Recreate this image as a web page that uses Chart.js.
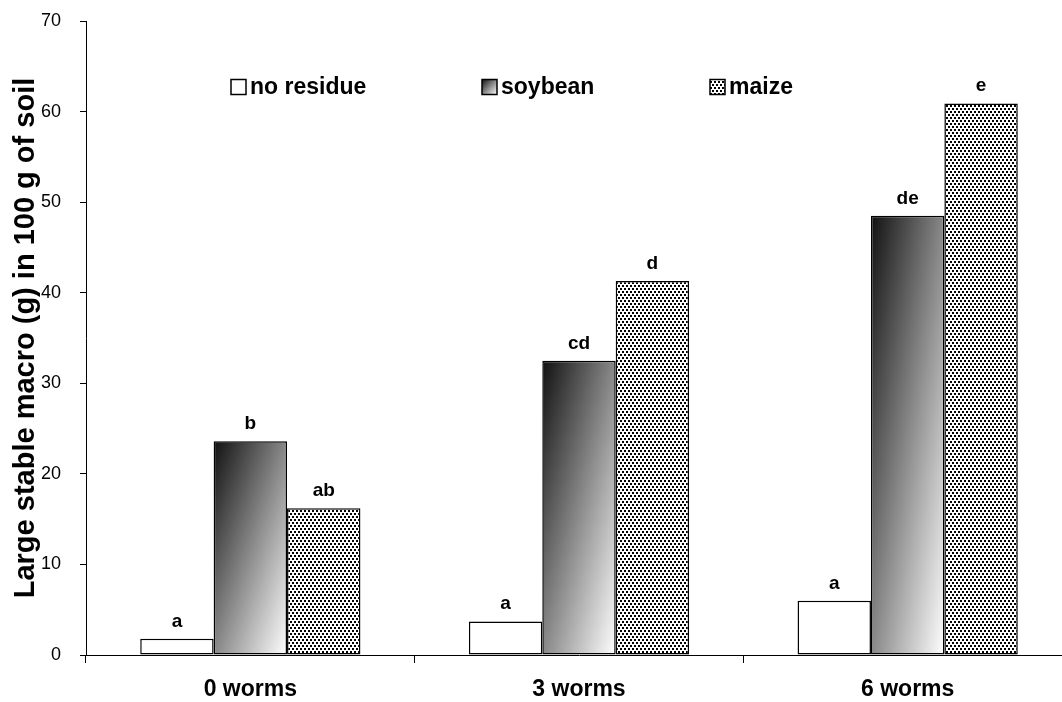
<!DOCTYPE html>
<html lang="en">
<head>
<meta charset="UTF-8">
<title>Large stable macroaggregates</title>
<script src="https://cdn.jsdelivr.net/npm/chart.js"></script>
<style>
    * { margin: 0; padding: 0; box-sizing: border-box; }
    body { background: #fff; width: 1062px; height: 702px; overflow: hidden; }
    /* the plot runs past the right edge of the picture, as in the original */
    .chart-box { position: relative; width: 1092px; height: 702px; }
</style>
</head>
<body>
<div class="chart-box">
    <canvas id="macroChart"></canvas>
</div>
<script>
// data
const categories = ['0 worms', '3 worms', '6 worms'];
const seriesNames = ['no residue', 'soybean', 'maize'];
const noResidue = [1.8, 3.7, 6.0];
const soybean = [23.6, 32.5, 48.5];
const maize = [16.2, 41.3, 60.9];
const letters = [
    ['a', 'a', 'a'],
    ['b', 'cd', 'de'],
    ['ab', 'd', 'e']
];
const yTicks = [0, 10, 20, 30, 40, 50, 60, 70];

const FONT = "'Liberation Sans', Arial, sans-serif";
const CAT_PCT = 0.67;

// dotted fill for maize
function dotPattern(ctx) {
    const c = document.createElement('canvas');
    c.width = 4; c.height = 6;
    const p = c.getContext('2d');
    p.fillStyle = '#fff';
    p.fillRect(0, 0, 4, 6);
    p.fillStyle = '#000';
    p.fillRect(0, 0, 2, 2);
    p.fillRect(2, 3, 2, 2);
    return ctx.createPattern(c, 'repeat');
}

// diagonal shade, dark top-left to white bottom-right, stretched to the box
function shade(ctx, left, top, w, h) {
    if (![left, top, w, h].every(Number.isFinite) || w <= 0 || h <= 0) return '#888';
    const k = 2 * w * h / (w * w + h * h);
    const g = ctx.createLinearGradient(left, top, left + k * h, top + k * w);
    g.addColorStop(0, '#111');
    g.addColorStop(1, '#fff');
    return g;
}

function soyFill(context) {
    const chart = context.chart;
    const xs = chart.scales.x, ys = chart.scales.y;
    if (!xs || !ys || context.dataIndex === undefined) return '#888';
    const i = context.dataIndex;
    const catW = xs.width / categories.length;
    const barW = catW * CAT_PCT / seriesNames.length;
    const cx = xs.getPixelForValue(i);
    const top = ys.getPixelForValue(soybean[i]);
    const base = ys.getPixelForValue(0);
    return shade(chart.ctx, cx - barW / 2, top, barW, base - top);
}

const letterPlugin = {
    id: 'letters',
    afterDatasetsDraw(chart) {
        const ctx = chart.ctx;
        ctx.save();
        ctx.font = 'bold 19px ' + FONT;
        ctx.fillStyle = '#000';
        ctx.textAlign = 'center';
        ctx.textBaseline = 'alphabetic';
        chart.data.datasets.forEach((ds, d) => {
            chart.getDatasetMeta(d).data.forEach((bar, i) => {
                ctx.fillText(letters[d][i], bar.x, bar.y - 12);
            });
        });
        ctx.restore();
    }
};

const legendPlugin = {
    id: 'innerLegend',
    afterDraw(chart) {
        const ctx = chart.ctx;
        const boxX = [231, 482, 710];
        const y = 87, s = 15;
        ctx.save();
        ctx.font = 'bold 23px ' + FONT;
        ctx.textBaseline = 'middle';
        ctx.textAlign = 'left';
        seriesNames.forEach((name, d) => {
            const x = boxX[d];
            let fill = '#fff';
            if (d === 1) fill = shade(ctx, x, y - s / 2, s, s);
            if (d === 2) fill = dotPattern(ctx);
            ctx.fillStyle = fill;
            ctx.fillRect(x, y - s / 2, s, s);
            ctx.strokeStyle = '#000';
            ctx.lineWidth = 1.5;
            ctx.strokeRect(x, y - s / 2, s, s);
            ctx.fillStyle = '#000';
            ctx.fillText(name, x + s + 4, y + 1);
        });
        ctx.restore();
    }
};

const canvas = document.getElementById('macroChart');
const pattern = dotPattern(canvas.getContext('2d'));

new Chart(canvas, {
    type: 'bar',
    data: {
        labels: categories,
        datasets: [
            { label: seriesNames[0], data: noResidue, backgroundColor: '#fff' },
            { label: seriesNames[1], data: soybean, backgroundColor: soyFill },
            { label: seriesNames[2], data: maize, backgroundColor: pattern }
        ]
    },
    options: {
        responsive: true,
        maintainAspectRatio: false,
        animation: false,
        layout: { autoPadding: false, padding: { top: 21, right: 20, left: 0, bottom: 0 } },
        datasets: {
            bar: {
                categoryPercentage: CAT_PCT,
                barPercentage: 1.0,
                borderColor: '#000',
                borderWidth: 1.5,
                borderSkipped: false
            }
        },
        plugins: {
            legend: { display: false },
            tooltip: { enabled: false }
        },
        scales: {
            x: {
                grid: {
                    offset: true,
                    drawOnChartArea: false,
                    drawTicks: true,
                    tickLength: 8,
                    color: '#000'
                },
                border: { color: '#000', width: 1 },
                ticks: {
                    padding: 13,
                    color: '#000',
                    font: { family: FONT, size: 23, weight: 'bold' }
                },
                afterFit(scale) { scale.height = 47; }
            },
            y: {
                min: 0,
                max: 70,
                afterBuildTicks(scale) {
                    scale.ticks = yTicks.map(v => ({ value: v }));
                },
                grid: {
                    drawOnChartArea: false,
                    drawTicks: true,
                    tickLength: 6,
                    color: '#000'
                },
                border: { color: '#000', width: 1 },
                ticks: {
                    padding: 19,
                    color: '#000',
                    font: { family: FONT, size: 18 }
                },
                title: {
                    display: true,
                    text: 'Large stable macro (g) in 100 g of soil',
                    color: '#000',
                    padding: { top: 9, bottom: 0 },
                    font: { family: FONT, size: 29, weight: 'bold' }
                },
                afterFit(scale) {
                    scale.width = 86;
                    scale.paddingTop = 0;
                    scale.paddingBottom = 0;
                }
            }
        }
    },
    plugins: [letterPlugin, legendPlugin]
});
</script>
</body>
</html>
